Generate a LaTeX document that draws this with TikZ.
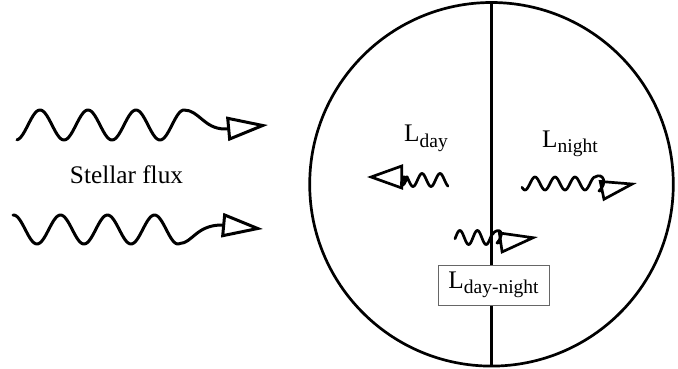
\documentclass[tikz,border=0pt]{standalone}
\usepackage{fontspec}
\setmainfont{Liberation Serif}
\usetikzlibrary{arrows.meta}
\newcommand\lsub[1]{L\raisebox{-5.5pt}{\fontsize{19.5}{20}\selectfont #1}}
\tikzset{
  wave/.style 2 args={line width=3pt, line cap=round, line join=round, -{Triangle[open, length=#1, width=#2]}},
  swave/.style 2 args={wave={#1}{#2}, line width=2.7pt},
  lbl/.style={inner sep=0pt, font=\fontsize{25.3}{30}\selectfont},
}
\begin{document}
\begin{tikzpicture}[x=1pt, y=-1pt]
\useasboundingbox (0,0) rectangle (678,369);
\node[circle, draw, line width=2.7pt, minimum size=363.6pt, inner sep=0pt, outer sep=0pt] (planet) at (491.5,184.3) {};
\draw[line width=3pt] (planet.north) -- (planet.south);
\node[lbl, draw=black!60, line width=0.8pt, fill=white, minimum width=111pt, minimum height=40pt] (ldn) at (493.5,285) {\lsub{day-night}};
\node[lbl, anchor=base west] (lday) at (404,142) {\lsub{day}};
\node[lbl, anchor=base west] (lnight) at (542,147) {\lsub{night}};
\node[lbl, anchor=base] (flux) at (126.5,183) {Stellar flux};
\coordinate (f1) at (268,125);
\coordinate (f2) at (263,229);
\coordinate (wd) at (367,177);
\coordinate (wn) at (637,183);
\coordinate (wdn) at (538,237);

% stellar flux
\draw[wave={41pt}{24pt}] plot[domain=17:184, samples=120] (\x, {125-15*sin(7.5*(\x-28))})
  .. controls (199,110) and (204,129) .. (225,129) -- (f1);
\draw[wave={41pt}{24pt}] plot[domain=13:180, samples=120] (\x, {229.5+14.5*cos(7.66*(\x-37))})
  .. controls (192,243) and (196,226) .. (220,225) -- (f2);
% emission
\draw[swave={36pt}{25pt}] plot[domain=448:407, samples=60] (\x, {180-6.5*sin(20*(\x-435.5))})
  .. controls (404,190) and (397,186) .. (405,177) -- (wd);
\draw[swave={37pt}{21pt}] plot[domain=522:595, samples=80] (\x, {183.5-6.5*sin(18*(\x-530))})
  .. controls (603,172) and (608,183) .. (599,191) -- (wn);
\draw[swave={39pt}{22pt}] plot[domain=455:490, samples=60] (\x, {237.5-7*sin(20.57*(\x-455.5))})
  .. controls (495,225) and (508,230) .. (497,243) -- (wdn);
\end{tikzpicture}
\end{document}
